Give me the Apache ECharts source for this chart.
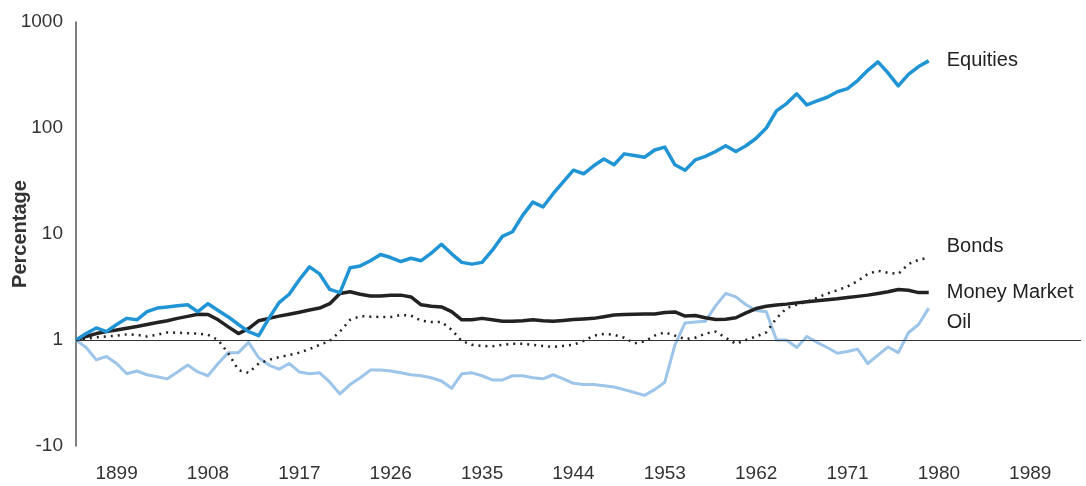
<!DOCTYPE html>
<html>
<head>
<meta charset="utf-8">
<script src="https://cdn.jsdelivr.net/npm/echarts@6/dist/echarts.min.js"></script>
<style>
  html, body { margin: 0; padding: 0; background: #fff; }
  #chart { width: 1086px; height: 486px; }
</style>
</head>
<body>
<div id="chart"></div>
<script>
// category axis: one slot per year, 1895..1994
const years = [];
for (let y = 1895; y <= 1994; y++) years.push(String(y));
const labelYears = ['1899', '1908', '1917', '1926', '1935', '1944', '1953', '1962', '1971', '1980', '1989'];

// series values, 1895..1979 (log scale, 1895 = 1)
const equities = [
  1.0, 1.15, 1.3, 1.2, 1.4, 1.6, 1.55, 1.85, 2.0, 2.05,
  2.1, 2.15, 1.85, 2.2, 1.9, 1.65, 1.4, 1.2, 1.1, 1.6,
  2.25, 2.7, 3.7, 4.9, 4.2, 3.0, 2.8, 4.8, 5.0, 5.6,
  6.4, 6.0, 5.5, 5.9, 5.6, 6.6, 8.0, 6.5, 5.4, 5.2,
  5.4, 7.0, 9.5, 10.5, 15, 20, 18, 24, 31, 40,
  37, 44, 51, 45, 57, 55, 53, 62, 66, 45,
  40, 50, 54, 60, 68, 60, 68, 80, 100, 145,
  170, 210, 165, 180, 195, 220, 235, 280, 350, 420,
  330, 250, 320, 380, 430
];
const bonds = [
  1.0, 1.03, 1.06, 1.08, 1.1, 1.13, 1.12, 1.08, 1.12, 1.18,
  1.17, 1.16, 1.15, 1.12, 1.0, 0.75, 0.52, 0.49, 0.6, 0.65,
  0.69, 0.72, 0.76, 0.82, 0.9, 0.98, 1.2, 1.55, 1.68, 1.66,
  1.65, 1.65, 1.72, 1.7, 1.52, 1.48, 1.48, 1.25, 0.98, 0.9,
  0.88, 0.87, 0.9, 0.92, 0.92, 0.9, 0.88, 0.86, 0.88, 0.9,
  0.98, 1.1, 1.14, 1.12, 1.05, 0.93, 0.97, 1.1, 1.18, 1.1,
  1.02, 1.05, 1.15, 1.2, 1.05, 0.92, 1.0, 1.08, 1.18, 1.6,
  2.0, 2.15, 2.3, 2.5, 2.75, 2.95, 3.2, 3.6, 4.2, 4.5,
  4.3, 4.2, 5.2, 5.7, 6.0
];
const moneyMarket = [
  1.0, 1.08, 1.15, 1.2, 1.24, 1.29, 1.34, 1.4, 1.46, 1.52,
  1.6, 1.67, 1.75, 1.74, 1.55, 1.33, 1.15, 1.28, 1.52, 1.6,
  1.68, 1.75, 1.83, 1.92, 2.0, 2.2, 2.75, 2.85, 2.7, 2.6,
  2.6, 2.65, 2.65, 2.55, 2.15, 2.08, 2.05, 1.85, 1.55, 1.55,
  1.6, 1.55, 1.5, 1.5, 1.52, 1.55, 1.52, 1.5, 1.53, 1.56,
  1.58, 1.6, 1.66, 1.72, 1.74, 1.75, 1.76, 1.76, 1.82, 1.84,
  1.68, 1.7, 1.62, 1.56, 1.57, 1.62, 1.8, 1.98, 2.08, 2.14,
  2.18, 2.24, 2.3, 2.35, 2.4, 2.45, 2.52, 2.58, 2.65, 2.75,
  2.85, 3.0, 2.95, 2.8, 2.8
];
const oil = [
  1.0, 0.85, 0.65, 0.7, 0.6, 0.48, 0.51, 0.47, 0.45, 0.43,
  0.5, 0.58, 0.5, 0.46, 0.6, 0.76, 0.76, 0.95, 0.68, 0.58,
  0.53, 0.6, 0.5, 0.48, 0.49, 0.4, 0.31, 0.38, 0.44, 0.52,
  0.52, 0.51, 0.49, 0.47, 0.46, 0.44, 0.41, 0.35, 0.48, 0.49,
  0.46, 0.42, 0.42, 0.46, 0.46, 0.44, 0.43, 0.47, 0.43, 0.39,
  0.38, 0.38, 0.37, 0.36, 0.34, 0.32, 0.3, 0.34, 0.4, 0.9,
  1.45, 1.48, 1.5, 2.1, 2.75, 2.55, 2.15, 1.9, 1.85, 1.0,
  1.0, 0.85, 1.08, 0.95, 0.85, 0.75, 0.78, 0.82, 0.6, 0.72,
  0.86, 0.76, 1.17, 1.4, 2.0
];

const font = 'Liberation Sans, Arial, sans-serif';

function endLabel(dy) {
  return {
    show: true,
    formatter: '{a}',
    color: '#222',
    fontSize: 20,
    fontFamily: font,
    distance: 18,
    offset: [0, dy]
  };
}

const chart = echarts.init(document.getElementById('chart'));
chart.setOption({
  animation: false,
  textStyle: { fontFamily: font },
  grid: { left: 76, right: 5, top: 22, bottom: 40, outerBoundsMode: 'none', containLabel: false },
  xAxis: {
    type: 'category',
    data: years,
    boundaryGap: false,
    axisLine: { show: false },
    axisTick: { show: false },
    splitLine: { show: false },
    axisLabel: {
      interval: (i, v) => labelYears.includes(v),
      color: '#333',
      fontSize: 19,
      margin: 18
    }
  },
  yAxis: {
    type: 'log',
    logBase: 10,
    min: 0.1,
    max: 1000,
    name: 'Percentage',
    nameLocation: 'middle',
    nameGap: 46,
    nameMoveOverlap: false,
    nameTextStyle: { color: '#333', fontSize: 20, fontWeight: 'bold' },
    axisLine: { show: true, lineStyle: { color: '#555', width: 1.5 } },
    axisTick: { show: false },
    splitLine: { show: false },
    axisLabel: {
      color: '#333',
      fontSize: 19,
      margin: 13,
      formatter: v => (v < 1 ? '-10' : String(v))
    }
  },
  series: [
    {
      name: 'Oil',
      type: 'line',
      data: oil,
      showSymbol: false,
      lineStyle: { color: '#9dc4e9', width: 3, join: 'round' },
      itemStyle: { color: '#9dc4e9' },
      endLabel: endLabel(14)
    },
    {
      name: 'Bonds',
      type: 'line',
      data: bonds,
      showSymbol: false,
      lineStyle: { color: '#222', width: 2.5, type: [2, 5] },
      itemStyle: { color: '#222' },
      endLabel: endLabel(-11)
    },
    {
      name: 'Money Market',
      type: 'line',
      data: moneyMarket,
      showSymbol: false,
      lineStyle: { color: '#222', width: 3.5, join: 'round' },
      itemStyle: { color: '#222' },
      endLabel: endLabel(0)
    },
    {
      name: 'Equities',
      type: 'line',
      data: equities,
      showSymbol: false,
      lineStyle: { color: '#2094d4', width: 3.5, join: 'round' },
      itemStyle: { color: '#2094d4' },
      endLabel: endLabel(0),
      markLine: {
        silent: true,
        symbol: 'none',
        label: { show: false },
        lineStyle: { color: '#333', width: 1.2, type: 'solid' },
        data: [{ yAxis: 1 }]
      }
    }
  ]
});
</script>
</body>
</html>
